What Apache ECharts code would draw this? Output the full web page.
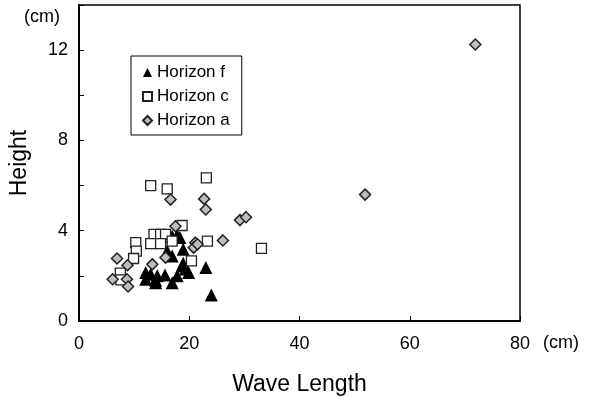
<!DOCTYPE html>
<html>
<head>
<meta charset="utf-8">
<script src="https://cdn.jsdelivr.net/npm/echarts@6/dist/echarts.min.js"></script>
<style>
  html, body { margin: 0; padding: 0; background: #fff; }
  #m1 { width: 594px; height: 401px; }
</style>
</head>
<body>
<div id="m1"></div>
<script>
// values: [wave length, height] in cm
var horizonF = [
    [12.1, 2.15], [13.0, 2.07], [14.2, 2.0], [15.6, 2.04], [12.1, 1.85],
    [13.9, 1.7], [13.9, 1.8], [16.9, 1.7], [17.8, 2.0], [18.7, 2.44],
    [18.9, 2.56], [19.3, 2.3], [19.9, 2.15], [16.0, 3.1], [16.9, 2.88],
    [18.9, 3.18], [16.9, 3.76], [17.8, 3.8], [18.3, 3.7], [23.0, 2.37],
    [24.0, 1.15]
];
var horizonC = [
    [13.0, 6.0], [16.0, 5.85], [23.1, 6.34], [18.7, 4.23], [13.6, 3.84],
    [14.8, 3.84], [15.7, 3.84], [13.0, 3.43], [14.8, 3.43], [16.9, 3.54],
    [23.3, 3.54], [10.3, 3.47], [10.4, 3.1], [9.9, 2.77], [7.5, 2.12],
    [7.6, 1.82], [20.4, 2.66], [33.1, 3.22]
];
var horizonA = [
    [16.6, 5.38], [22.7, 5.41], [23.0, 4.94], [17.5, 4.2], [21.1, 3.47],
    [20.8, 3.25], [21.5, 3.4], [26.1, 3.57], [29.2, 4.47], [30.3, 4.6],
    [13.3, 2.51], [15.7, 2.81], [6.9, 2.77], [8.8, 2.47], [6.1, 1.85],
    [8.7, 1.85], [8.9, 1.53], [51.9, 5.6], [71.9, 12.25]
];
var seriesNames = ['Horizon f', 'Horizon c', 'Horizon a'];
var xTicks = [0, 20, 40, 60, 80];
var yTicks = [0, 4, 8, 12];

var font = 'Liberation Sans, Arial, sans-serif';
var myChart = echarts.init(document.getElementById('m1'));
var option = {
    animation: false,
    backgroundColor: '#fff',
    grid: {
        left: 78, right: 74, top: 5, bottom: 79,
        show: true,
        borderColor: '#000',
        borderWidth: 1.5
    },
    legend: {
        orient: 'vertical',
        left: 131,
        top: 56,
        data: seriesNames,
        itemWidth: 9,
        itemHeight: 9,
        itemGap: 7,
        padding: [8, 12, 6, 11],
        borderColor: '#000',
        borderWidth: 1,
        textStyle: { fontFamily: font, fontSize: 17, color: '#000' }
    },
    xAxis: {
        type: 'value',
        min: 0, max: 80, interval: 20,
        splitLine: { show: false },
        axisLine: { lineStyle: { color: '#000', width: 2 } },
        axisTick: { inside: true, length: 5, lineStyle: { color: '#000' } },
        axisLabel: {
            margin: 14,
            fontFamily: font, fontSize: 18, color: '#000',
            formatter: function (v) { return xTicks.indexOf(v) >= 0 ? String(v) : ''; }
        },
        name: 'Wave Length',
        nameLocation: 'middle',
        nameGap: 52,
        nameTextStyle: { fontFamily: font, fontSize: 23, color: '#000' }
    },
    yAxis: {
        type: 'value',
        min: 0, max: 14, interval: 2,
        splitLine: { show: false },
        axisLine: { lineStyle: { color: '#000', width: 2 } },
        axisTick: { inside: true, length: 5, lineStyle: { color: '#000' } },
        axisLabel: {
            margin: 11,
            fontFamily: font, fontSize: 18, color: '#000',
            formatter: function (v) { return yTicks.indexOf(v) >= 0 ? String(v) : ''; }
        },
        name: 'Height',
        nameLocation: 'middle',
        nameGap: 48,
        nameTextStyle: { fontFamily: font, fontSize: 23, color: '#000' }
    },
    graphic: [
        {
            type: 'text', left: 24, top: 8,
            style: { text: '(cm)', font: '18px ' + font, fill: '#000' }
        },
        {
            type: 'text', left: 543, top: 334,
            style: { text: '(cm)', font: '18px ' + font, fill: '#000' }
        }
    ],
    series: [
        {
            name: seriesNames[0],
            type: 'scatter',
            symbol: 'triangle',
            symbolSize: 13,
            itemStyle: { color: '#000', opacity: 1 },
            data: horizonF
        },
        {
            name: seriesNames[1],
            type: 'scatter',
            symbol: 'rect',
            symbolSize: 10,
            itemStyle: { color: '#fff', borderColor: '#222', borderWidth: 1.3, opacity: 1 },
            data: horizonC
        },
        {
            name: seriesNames[2],
            type: 'scatter',
            symbol: 'diamond',
            symbolSize: 11,
            itemStyle: { color: '#bdbdbd', borderColor: '#222', borderWidth: 1.5, opacity: 1 },
            data: horizonA
        }
    ]
};
myChart.setOption(option);
</script>
</body>
</html>
